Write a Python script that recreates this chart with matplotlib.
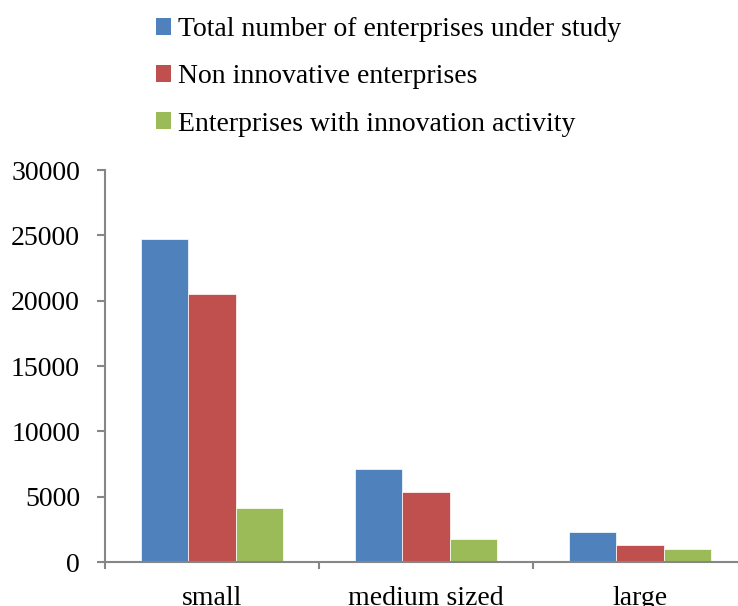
import numpy as np
import matplotlib.pyplot as plt
from matplotlib.patches import Patch

categories = ["small", "medium sized", "large"]
series_names = ["Total number of enterprises under study",
                "Non innovative enterprises",
                "Enterprises with innovation activity"]
total = [24700, 7080, 2300]
non_innov = [20500, 5320, 1300]
innov = [4170, 1760, 1030]
colors = ["#4F81BD", "#C0504D", "#9BBB59"]

plt.rcParams['font.family'] = ['Liberation Serif', 'DejaVu Serif']

fig = plt.figure(figsize=(7.38, 6.06), dpi=100)
ax = fig.add_axes([105/738, 44/606, 642/738, 392/606])

x = np.arange(len(categories))
w = 0.222
for i, (vals, c) in enumerate(zip([total, non_innov, innov], colors)):
    ax.bar(x + (i - 1) * w, vals, w, color=c, edgecolor="white", linewidth=0.5)

ax.set_xlim(-0.5, 2.5)
ax.set_ylim(0, 30000)
ax.set_yticks(np.arange(0, 30001, 5000))

# boundary ticks without labels, category labels on minor ticks
ax.set_xticks([-0.5, 0.5, 1.5, 2.5])
ax.set_xticklabels([])
ax.set_xticks(x, minor=True)
ax.set_xticklabels(categories, minor=True)
ax.tick_params(axis="x", which="minor", length=0, pad=17, labelsize=20)
ax.tick_params(axis="x", which="major", length=5, width=1.5, color="#868686", direction="out")
ax.tick_params(axis="y", length=6, width=1.5, color="#868686", direction="out", pad=12, labelsize=20)

for s in ["top", "right"]:
    ax.spines[s].set_visible(False)
for s in ["left", "bottom"]:
    ax.spines[s].set_color("#868686")
    ax.spines[s].set_linewidth(1.5)

handles = [Patch(facecolor=c, edgecolor="none") for c in colors]
fig.legend(handles, series_names, loc="upper left", bbox_to_anchor=(145/738, 1.0 - 6/606),
           frameon=False, fontsize=20, handlelength=0.55, handleheight=0.55,
           handletextpad=0.25, labelspacing=0.8, borderaxespad=0)

fig.savefig("out.png", dpi=100)
